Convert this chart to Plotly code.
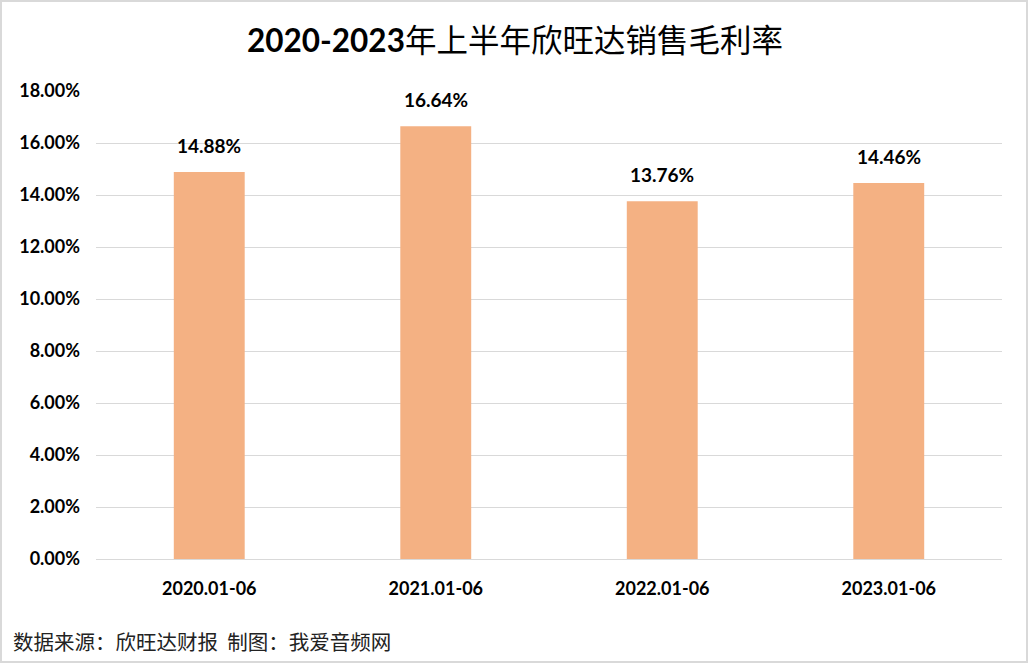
import plotly.graph_objects as go

categories = ["2020.01-06", "2021.01-06", "2022.01-06", "2023.01-06"]
margin_values = [14.88, 16.64, 13.76, 14.46]  # percent
labels = ["14.88%", "16.64%", "13.76%", "14.46%"]
y_tickvals = [0, 2, 4, 6, 8, 10, 12, 14, 16, 18]
y_ticktext = ["0.00%", "2.00%", "4.00%", "6.00%", "8.00%", "10.00%", "12.00%", "14.00%", "16.00%", "18.00%"]

W, H = 1029, 664
L, R, T, B = 96, 27, 91, 105
PW, PH = W - L - R, H - T - B

def px_x(x):
    return (x - L) / PW

def px_y(y):
    return (H - B - y) / PH

BASE = "Lato, 'Noto Sans CJK SC', sans-serif"

fig = go.Figure()
fig.add_trace(go.Bar(
    x=categories, y=margin_values,
    marker=dict(color="#F4B183", line=dict(width=0)),
    width=0.313,
    hoverinfo="skip",
))

for c, v, t in zip(categories, margin_values, labels):
    fig.add_annotation(x=c, y=v, text="<b>%s</b>" % t, showarrow=False,
                       yanchor="bottom", yshift=13,
                       font=dict(family=BASE, size=19, color="#000000"))

fig.add_annotation(xref="paper", yref="paper", x=px_x(W / 2), y=px_y(40),
                   text="<b>2020-2023</b>年上半年欣旺达销售毛利率", showarrow=False,
                   xanchor="center", yanchor="middle",
                   font=dict(family="Lato, 'Noto Sans CJK SC'", size=31.5, color="#000000"))

fig.add_annotation(xref="paper", yref="paper", x=px_x(11), y=px_y(641),
                   text="数据来源：欣旺达财报&nbsp;&nbsp;制图：我爱音频网", showarrow=False,
                   xanchor="left", yanchor="middle",
                   font=dict(family="'Noto Sans CJK SC'", size=20.5, color="#222222"))

fig.add_shape(type="rect", xref="paper", yref="paper",
              x0=px_x(1), x1=px_x(W - 2), y0=px_y(H - 2), y1=px_y(1),
              line=dict(color="#D9D9D9", width=2), layer="below")

fig.update_layout(
    width=W, height=H,
    margin=dict(l=L, r=R, t=T, b=B, pad=0),
    paper_bgcolor="#FFFFFF", plot_bgcolor="#FFFFFF",
    showlegend=False,
    bargap=0.687,
    xaxis=dict(showgrid=False, showline=False, ticks="",
               tickfont=dict(family=BASE, size=18, color="#000000"),
               tickprefix="<b>", ticksuffix="</b>", ticklabelstandoff=17),
    yaxis=dict(range=[0, 18], tickvals=y_tickvals, ticktext=["<b>%s</b>" % t for t in y_ticktext],
               showgrid=True, gridcolor="#D9D9D9", gridwidth=1,
               zeroline=True, zerolinecolor="#D9D9D9", zerolinewidth=1,
               showline=False, ticks="",
               tickfont=dict(family=BASE, size=18, color="#000000"),
               ticklabelstandoff=15),
)

fig.write_html("out.html")
